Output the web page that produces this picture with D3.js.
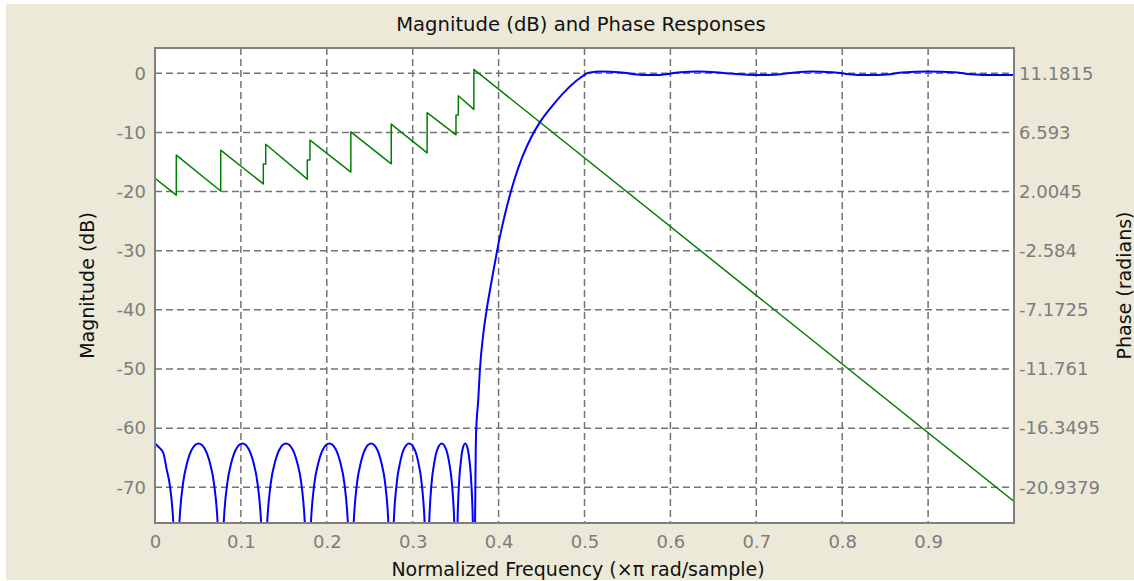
<!DOCTYPE html>
<html>
<head>
<meta charset="utf-8">
<script src="https://cdn.jsdelivr.net/npm/d3@7"></script>
<style>
  html, body { margin: 0; padding: 0; background: #ffffff; }
  svg { display: block; }
  text { font-family: "DejaVu Sans", sans-serif; }
</style>
</head>
<body>
<svg id="chart" width="1134" height="581"></svg>
<script>
// ---- tick values and labels ----
const freqTicks = [0, 0.1, 0.2, 0.3, 0.4, 0.5, 0.6, 0.7, 0.8, 0.9];
const magTicks = [0, -10, -20, -30, -40, -50, -60, -70];
const phaseTicks = [11.1815, 6.593, 2.0045, -2.584, -7.1725, -11.761, -16.3495, -20.9379];
const phaseTickLabels = ["11.1815", "6.593", "2.0045", "-2.584", "-7.1725", "-11.761", "-16.3495", "-20.9379"];
const magLimits = [-76.04, 4.28];

// ---- magnitude response (dB) vs normalized frequency ----
const magFreq = [
  0, 0.005, 0.0097, 0.0136, 0.0175, 0.0213,
  0.0248, 0.0284, 0.0326, 0.0377, 0.0429, 0.0507, 0.0584, 0.0636, 0.0687, 0.0729,
  0.0765, 0.0800, 0.0841, 0.0891, 0.0942, 0.1018, 0.1093, 0.1144, 0.1194, 0.1235,
  0.1270, 0.1306, 0.1347, 0.1398, 0.1449, 0.1525, 0.1602, 0.1653, 0.1704, 0.1744,
  0.1780, 0.1815, 0.1855, 0.1905, 0.1955, 0.2030, 0.2105, 0.2155, 0.2205, 0.2245,
  0.2280, 0.2313, 0.2351, 0.2398, 0.2445, 0.2515, 0.2586, 0.2633, 0.2680, 0.2717,
  0.2750, 0.2779, 0.2813, 0.2855, 0.2896, 0.2959, 0.3022, 0.3064, 0.3105, 0.3139,
  0.3168, 0.3192, 0.3219, 0.3253, 0.3287, 0.3338, 0.3389, 0.3423, 0.3457, 0.3484,
  0.3508, 0.3522, 0.3539, 0.3560, 0.3580, 0.3611, 0.3642, 0.3663, 0.3683, 0.3700,
  0.3714, 0.3737, 0.3764, 0.3783, 0.3822, 0.3861, 0.3920, 0.3970, 0.4010, 0.4060,
  0.4120, 0.4190, 0.4280, 0.4380, 0.4480, 0.4637, 0.4790, 0.4948,
  0.505, 0.520, 0.540, 0.555, 0.578, 0.598, 0.612, 0.632, 0.652, 0.670,
  0.690, 0.705, 0.720, 0.740, 0.765, 0.788, 0.805, 0.830, 0.852, 0.870,
  0.900, 0.930, 0.950, 0.980, 1.0
];
const magDb = [
  -62.6, -63.3, -64.2, -67.0, -69.9, -76.0,
  -90, -76, -69.4, -65.7, -63.6, -62.6, -63.6, -65.7, -69.4, -76,
  -90, -76, -69.4, -65.7, -63.6, -62.6, -63.6, -65.7, -69.4, -76,
  -90, -76, -69.4, -65.7, -63.6, -62.6, -63.6, -65.7, -69.4, -76,
  -90, -76, -69.4, -65.7, -63.6, -62.6, -63.6, -65.7, -69.4, -76,
  -90, -76, -69.4, -65.7, -63.6, -62.6, -63.6, -65.7, -69.4, -76,
  -90, -76, -69.4, -65.7, -63.6, -62.6, -63.6, -65.7, -69.4, -76,
  -90, -76, -69.4, -65.7, -63.6, -62.6, -63.6, -65.7, -69.4, -76,
  -90, -76, -69.4, -65.7, -63.6, -62.6, -63.6, -65.7, -69.4, -76,
  -90, -61.3, -55.0, -50.0, -44.0, -40.0, -35.0, -31.0, -28.0, -24.7,
  -21.2, -17.7, -14.0, -10.8, -8.3, -5.3, -2.8, -0.8,
  0.1, 0.3, 0.2, -0.1, -0.3, -0.1, 0.2, 0.3, 0.2, -0.05,
  -0.25, -0.3, -0.25, 0.05, 0.3, 0.2, -0.1, -0.3, -0.2, 0.15,
  0.3, 0.2, -0.15, -0.3, -0.3
];

// ---- phase response (radians) vs normalized frequency ----
const phaseFreq = [
  0, 0.0248, 0.0248, 0.0765, 0.0765,
  0.1261, 0.1261, 0.1289, 0.1289,
  0.1773, 0.1773, 0.1804, 0.1804,
  0.2280, 0.2280, 0.2750, 0.2750, 0.3168, 0.3168,
  0.3504, 0.3504, 0.3531, 0.3531,
  0.3712, 0.3712, 1.0
];
const phaseRad = [
  3.03, 1.73, 4.83, 2.05, 5.22,
  2.60, 4.14, 4.14, 5.68,
  2.97, 4.45, 4.45, 6.00,
  3.52, 6.64, 4.16, 7.24, 5.01, 8.13,
  6.41, 7.95, 7.95, 9.44,
  8.38, 11.49, -22.04
];

const W = 1134, H = 581;
const plot = { left: 155, top: 48, right: 1014, bottom: 523 };
const svg = d3.select("#chart");

// window background
svg.append("rect")
  .attr("x", 6).attr("y", 4)
  .attr("width", W - 6).attr("height", H - 5)
  .attr("fill", "#ECE9D8");

// scales
const x = d3.scaleLinear().domain([0, 1]).range([plot.left, plot.right]);
const yMag = d3.scaleLinear().domain(magLimits).range([plot.bottom, plot.top]);
// phase axis is tied to the magnitude grid: each phase tick sits on a dB tick
const magToPhase = d3.scaleLinear()
  .domain([magTicks[0], magTicks[magTicks.length - 1]])
  .range([phaseTicks[0], phaseTicks[phaseTicks.length - 1]]);
const yPhase = d3.scaleLinear().domain(magLimits.map(magToPhase)).range([plot.bottom, plot.top]);

// plot area
svg.append("rect")
  .attr("x", plot.left).attr("y", plot.top)
  .attr("width", plot.right - plot.left).attr("height", plot.bottom - plot.top)
  .attr("fill", "#ffffff");

svg.append("clipPath").attr("id", "plotClip")
  .append("rect")
  .attr("x", plot.left).attr("y", plot.top)
  .attr("width", plot.right - plot.left).attr("height", plot.bottom - plot.top);

// dashed grid
const grid = svg.append("g")
  .attr("stroke", "#737373")
  .attr("stroke-width", 1.5)
  .attr("stroke-dasharray", "7,4");
grid.selectAll("line.v").data(freqTicks.slice(1)).join("line")
  .attr("class", "v")
  .attr("x1", d => x(d)).attr("x2", d => x(d))
  .attr("y1", plot.top).attr("y2", plot.bottom);
grid.selectAll("line.h").data(magTicks).join("line")
  .attr("class", "h")
  .attr("x1", plot.left).attr("x2", plot.right)
  .attr("y1", d => yMag(d)).attr("y2", d => yMag(d));

// curves
const curves = svg.append("g").attr("clip-path", "url(#plotClip)");

const phasePts = phaseFreq.map((f, i) => [f, phaseRad[i]]);
curves.append("path")
  .datum(phasePts)
  .attr("fill", "none")
  .attr("stroke", "#008000")
  .attr("stroke-width", 1.5)
  .attr("stroke-linejoin", "round")
  .attr("d", d3.line().x(d => x(d[0])).y(d => yPhase(d[1])));

const magPts = magFreq.map((f, i) => [f, magDb[i]]);
curves.append("path")
  .datum(magPts)
  .attr("fill", "none")
  .attr("stroke", "#0000ff")
  .attr("stroke-width", 2)
  .attr("stroke-linejoin", "round")
  .attr("d", d3.line().curve(d3.curveMonotoneX).x(d => x(d[0])).y(d => yMag(d[1])));

// axes frame
svg.append("rect")
  .attr("x", plot.left).attr("y", plot.top)
  .attr("width", plot.right - plot.left).attr("height", plot.bottom - plot.top)
  .attr("fill", "none")
  .attr("stroke", "#808080")
  .attr("stroke-width", 2);

// tick labels
const tickColor = "#7d7d7d";
const tickFont = 18;

const leftAxis = svg.append("g")
  .attr("transform", `translate(${plot.left},0)`)
  .call(d3.axisLeft(yMag).tickValues(magTicks).tickSize(0).tickPadding(9).tickFormat(d => String(d)));
const bottomAxis = svg.append("g")
  .attr("transform", `translate(0,${plot.bottom})`)
  .call(d3.axisBottom(x).tickValues(freqTicks).tickSize(0)
    .tickFormat(d => d === 0 ? "0" : d.toFixed(1)));
const rightAxis = svg.append("g")
  .attr("transform", `translate(${plot.right},0)`)
  .call(d3.axisRight(yPhase).tickValues(phaseTicks).tickSize(0).tickPadding(5)
    .tickFormat((d, i) => phaseTickLabels[i]));

[leftAxis, bottomAxis, rightAxis].forEach(g => {
  g.select(".domain").remove();
  g.selectAll("text")
    .attr("fill", tickColor)
    .attr("font-size", tickFont)
    .attr("font-family", "DejaVu Sans, sans-serif");
});
bottomAxis.selectAll("text").attr("y", 548 - plot.bottom).attr("dy", null);

// titles
svg.append("text")
  .attr("x", 581).attr("y", 31)
  .attr("text-anchor", "middle")
  .attr("font-size", 19.6)
  .attr("fill", "#111")
  .text("Magnitude (dB) and Phase Responses");

svg.append("text")
  .attr("x", 578).attr("y", 576)
  .attr("text-anchor", "middle")
  .attr("font-size", 19)
  .attr("fill", "#111")
  .text("Normalized Frequency (\u00d7\u03c0 rad/sample)");

svg.append("text")
  .attr("transform", `translate(94,${(plot.top + plot.bottom) / 2}) rotate(-90)`)
  .attr("text-anchor", "middle")
  .attr("font-size", 19)
  .attr("fill", "#111")
  .text("Magnitude (dB)");

svg.append("text")
  .attr("transform", `translate(1131,${(plot.top + plot.bottom) / 2}) rotate(-90)`)
  .attr("text-anchor", "middle")
  .attr("font-size", 19)
  .attr("fill", "#111")
  .text("Phase (radians)");
</script>
</body>
</html>
